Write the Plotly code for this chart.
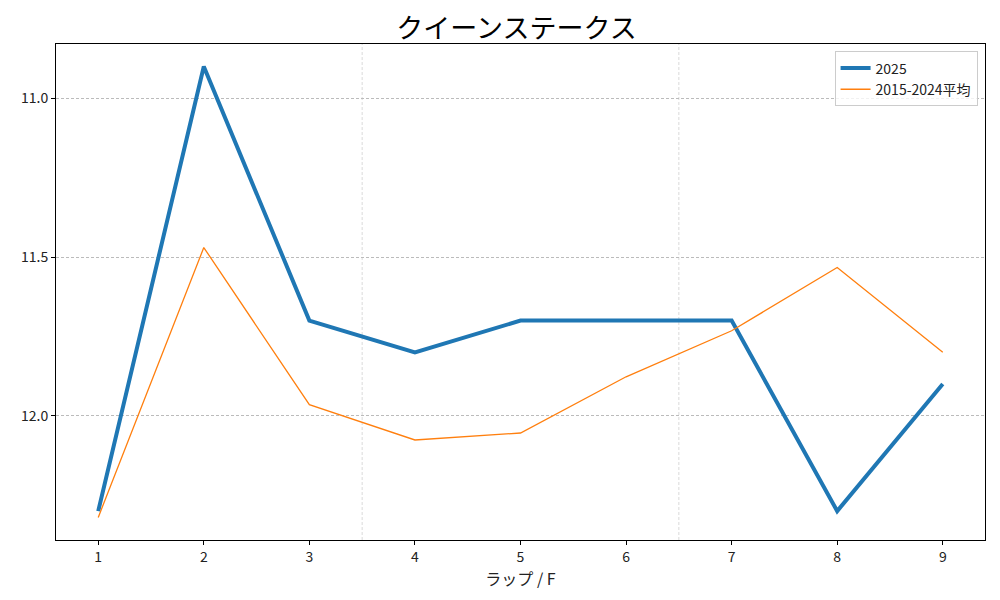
import plotly.graph_objects as go

laps = [1, 2, 3, 4, 5, 6, 7, 8, 9]
y2025 = [12.3, 10.9, 11.7, 11.8, 11.7, 11.7, 11.7, 12.3, 11.9]
yavg = [12.32, 11.47, 11.965, 12.076, 12.054, 11.877, 11.732, 11.533, 11.80]
yticks = [11.0, 11.5, 12.0]
section_lines = [3.5, 6.5]

FONT = "Noto Sans CJK JP"

fig = go.Figure()
fig.add_trace(go.Scatter(x=laps, y=y2025, mode="lines", name="2025",
                         line=dict(color="#1f77b4", width=4)))
fig.add_trace(go.Scatter(x=laps, y=yavg, mode="lines", name="2015-2024平均",
                         line=dict(color="#ff7f0e", width=1.3)))

for xv in section_lines:
    fig.add_shape(type="line", x0=xv, x1=xv, y0=0, y1=1, xref="x", yref="paper",
                  line=dict(color="#d0d0d0", width=0.8, dash="3px,2px"), layer="below")

fig.update_layout(
    width=1000, height=600,
    margin=dict(l=48, r=23, t=36, b=68),
    paper_bgcolor="white", plot_bgcolor="white",
    font=dict(family=FONT, size=14, color="#222"),
    title=dict(text="クイーンステークス", x=0.5085, xanchor="center", y=0.966, yanchor="middle",
               font=dict(size=27, color="black", family=FONT)),
    legend=dict(x=0.992, y=0.985, xanchor="right", yanchor="top",
                bgcolor="rgba(255,255,255,0.8)", bordercolor="#cccccc", borderwidth=1,
                font=dict(size=14)),
    showlegend=True,
)
fig.update_xaxes(range=[0.6, 9.4], tickvals=laps, showgrid=False, zeroline=False,
                 showline=True, linecolor="black", linewidth=1, mirror=True,
                 ticks="outside", ticklen=4, tickcolor="black", automargin=False,
                 title=dict(text="ラップ / F", font=dict(size=16), standoff=6))
fig.update_yaxes(range=[12.391, 10.829], tickvals=yticks,
                 ticktext=[f"{v:.1f}" for v in yticks],
                 showgrid=True, gridcolor="#bbbbbb", gridwidth=0.7, griddash="3px,2px",
                 zeroline=False, showline=True, linecolor="black", linewidth=1, mirror=True,
                 ticks="outside", ticklen=4, tickcolor="black", automargin=False)

fig.write_html("out.html")
